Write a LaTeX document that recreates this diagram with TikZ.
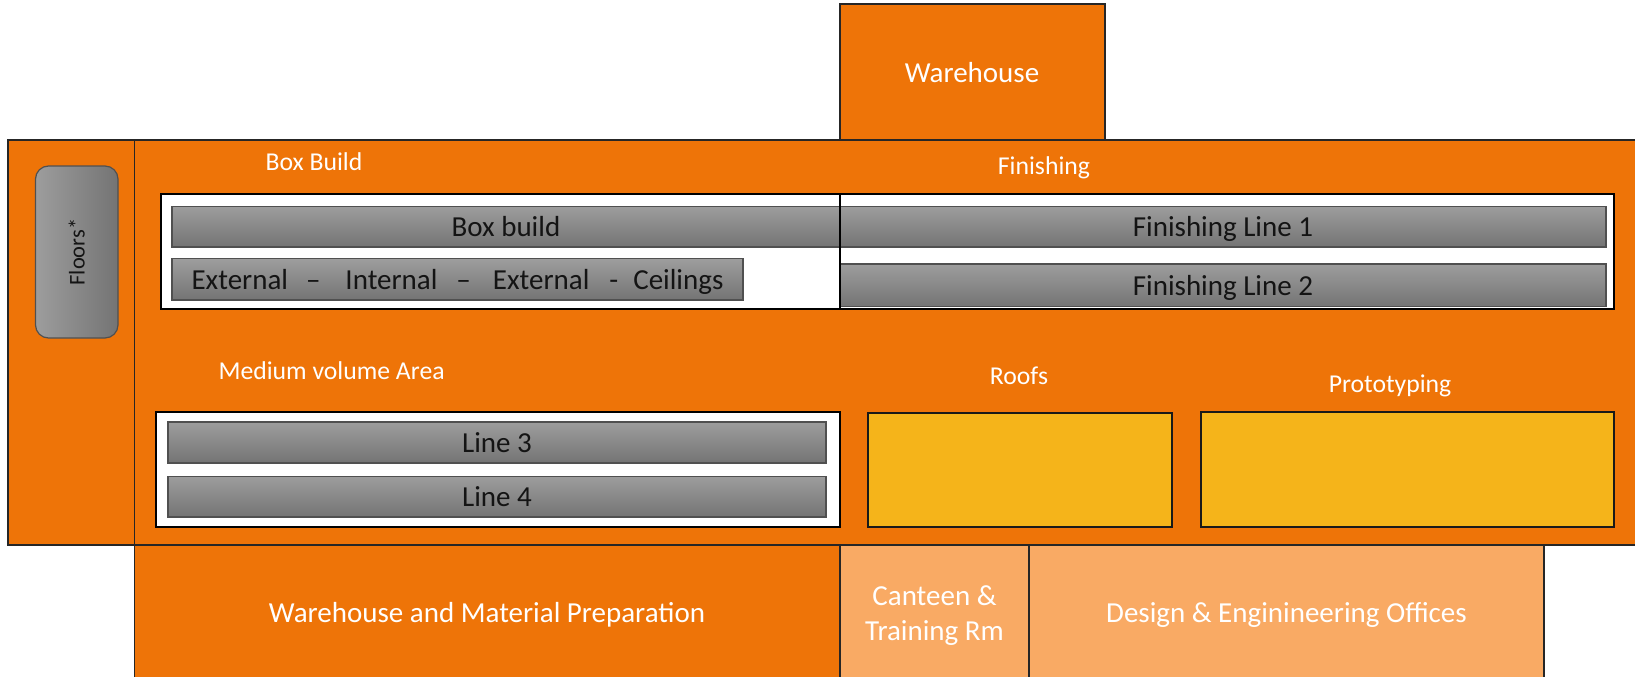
\documentclass[tikz,border=0pt]{standalone}
\usepackage{fontspec}
\setmainfont{Carlito}
\usetikzlibrary{fit}
\definecolor{org}{RGB}{238,116,8}
\definecolor{lorg}{RGB}{249,170,100}
\definecolor{yel}{RGB}{245,180,26}
\definecolor{bartop}{RGB}{157,157,157}
\definecolor{barbot}{RGB}{116,116,116}
\definecolor{barline}{RGB}{80,80,80}
\definecolor{txt}{RGB}{20,20,20}
\begin{document}
\begin{tikzpicture}[x=1pt,y=-1pt,
  area/.style={fill=org, draw=black!85, line width=1.2pt, inner sep=0pt},
  light/.style={area, fill=lorg},
  wbox/.style={fill=white, draw=black, line width=2pt, inner sep=0pt},
  ybox/.style={fill=yel, draw=black!90, line width=2pt, inner sep=0pt},
  bar/.style={top color=bartop, bottom color=barbot, draw=barline, line width=1.2pt, inner sep=0pt},
  bigtxt/.style={text=white, font=\fontsize{29}{35}\selectfont, inner sep=0pt, align=center},
  bartxt/.style={text=txt, font=\fontsize{29}{34}\selectfont, inner sep=0pt, text height=21pt, text depth=1pt},
  lbl/.style={text=white, font=\fontsize{25.7}{30}\selectfont, inner sep=0pt, text height=18pt, text depth=1pt},
]
\useasboundingbox (0,0) rectangle (1635,677);
\begin{scope}
\clip (0,0) rectangle (1635,677);
% main band
\node[area, fit={(8,140) (1660,545)}] (main) {};
\draw[black!85, line width=1.2pt] (134.5,140) -- (134.5,545);
% warehouse on top
\node[area, fit={(840,4) (1105,140)}] (wh) {};
% bottom rooms
\node[area, fit={(134.5,545) (840,700)}] (wmp) {};
\node[light, fit={(840,545) (1029,700)}] (cant) {};
\node[light, fit={(1029,545) (1544,700)}] (des) {};
% floors
\node[left color=bartop, right color=barbot, draw=barline, line width=1.2pt, rounded corners=13pt, inner sep=0pt, fit={(35.5,166) (118,338)}] (floors) {};
% top white box
\node[wbox, fit={(160.5,194) (1614,308.5)}] (topbox) {};
\node[bar, fit={(172,206.5) (840,247)}] (bb) {};
\node[bar, fit={(172,258.6) (743,300)}] (ext) {};
\node[bar, fit={(840,206.5) (1606,247)}] (fl1) {};
\node[bar, fit={(840,264) (1606,306.5)}] (fl2) {};
\draw[black, line width=1.5pt] (840,194) -- (840,308.5);
% bottom white box
\node[wbox, fit={(156,412) (840,526.6)}] (botbox) {};
\node[bar, fit={(168,422) (826,463)}] (l3) {};
\node[bar, fit={(168,476.5) (826,517)}] (l4) {};
% yellow areas
\node[ybox, fit={(867.5,413) (1172,526.6)}] (roofs) {};
\node[ybox, fit={(1201,412) (1614,526.6)}] (proto) {};
% texts
\node[bigtxt] (twh) at (972,73) {Warehouse};
\node[lbl] (tbbl) at (314,162) {Box Build};
\node[lbl] (tfin) at (1044,166) {Finishing};
\node[lbl] (tmed) at (331.6,371) {Medium volume Area};
\node[lbl] (troof) at (1019,376) {Roofs};
\node[lbl] (tproto) at (1390,384) {Prototyping};
\node[bartxt] (tbb) at (bb.center) {Box build};
\node[bartxt] (text) at (ext.center) {External\hspace{18pt}–\hspace{25pt}Internal\hspace{19pt}–\hspace{22pt}External\hspace{20pt}-\hspace{15pt}Ceilings};
\node[bartxt] (tfl1) at (fl1.center) {Finishing Line 1};
\node[bartxt] (tfl2) at (fl2.center) {Finishing Line 2};
\node[bartxt] (tl3) at (l3.center) {Line 3};
\node[bartxt] (tl4) at (l4.center) {Line 4};
\node[bigtxt] (twmp) at (487,615) {Warehouse and Material Preparation};
\node[bigtxt] (tcant) at (934.5,616) {Canteen \&\\Training Rm};
\node[bigtxt] (tdes) at (1286.5,615) {Design \& Enginineering Offices};
\node[text=txt, font=\fontsize{22.5}{26}\selectfont, rotate=90, inner sep=0pt] (tfloors) at (floors.center) {Floors*};
\end{scope}
\end{tikzpicture}
\end{document}
